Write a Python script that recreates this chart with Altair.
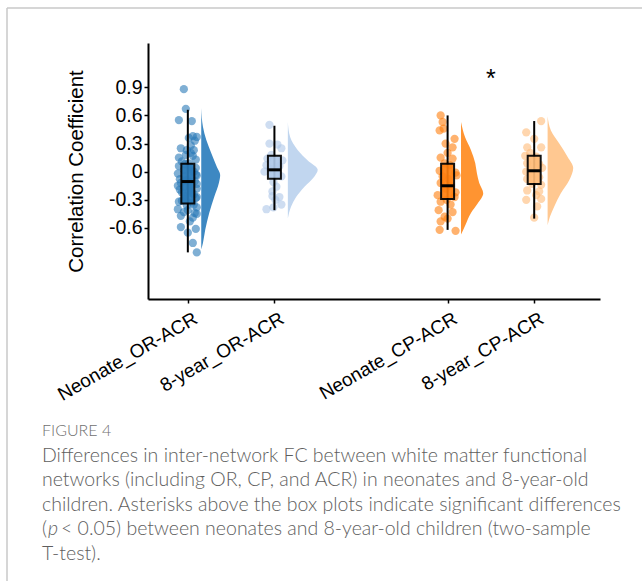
import altair as alt
import pandas as pd

# ---------------- data ----------------
groups = ["Neonate_OR-ACR", "8-year_OR-ACR", "Neonate_CP-ACR", "8-year_CP-ACR"]
positions = [1, 2, 4, 5]
box_colors = ["#2a7ab8", "#aec7e8", "#ff7f0e", "#ffbb78"]
violin_colors = ["#3d88c2", "#c1d6ef", "#ff9431", "#ffc891"]

# individual correlation coefficients and their horizontal jitter (in jitter steps)
g1_values = [0.88, 0.67, 0.55, 0.54, 0.38, 0.37, 0.36, 0.33, 0.25, 0.23, 0.23, 0.20,
             0.18, 0.17, 0.13, 0.11, 0.09, 0.06, 0.05, 0.04, 0.02, 0.00, -0.02, -0.03,
             -0.05, -0.07, -0.09, -0.10, -0.12, -0.14, -0.16, -0.18, -0.19, -0.21, -0.24, -0.26,
             -0.28, -0.31, -0.33, -0.36, -0.38, -0.40, -0.41, -0.44, -0.47, -0.49, -0.53, -0.59,
             -0.61, -0.65, -0.76, -0.86,
             0.08, 0.01, -0.04, -0.08, -0.11, -0.13, -0.15, -0.17, -0.22, -0.23, -0.27, -0.29,
             -0.32, -0.35, -0.43, 0.15, 0.28, -0.45]
g1_jitter = [-4, -2, -9, 4, 5, 9, 1, 7, -7, -1, 6, 3,
             -2, 5, 8, -6, 1, -9, 2, 8, -4, 6, -10, 8,
             -3, 4, -1, 7, -7, 3, -4, 9, -8, 1, 6, -3,
             8, -6, 4, -1, 9, -10, 0, 7, -7, 5, 2, -7,
             8, 0, 5, 9,
             -3, 3, 9, -8, 1, 9, -10, 2, -6, 4, 9, -2,
             -9, 6, -4, -9, 3, 9]

g2_values = [0.50, 0.30, 0.29, 0.25, 0.14, 0.12, 0.07, 0.06, 0.03, 0.00, -0.01, -0.05,
             -0.11, -0.16, -0.21, -0.26, -0.27, -0.30, -0.35, -0.40, -0.38, 0.18]
g2_jitter = [-5, -5, 3, 7, -7, 8, -8, 5, -4, -10, 3, 7,
             -1, 2, -2, -2, 5, 1, 7, -8, -1, -3]

g3_values = [0.60, 0.46, 0.44, 0.35, 0.30, 0.26, 0.15, 0.14, 0.09, 0.07, 0.01, -0.01,
             -0.05, -0.04, -0.12, -0.15, -0.18, -0.22, -0.25, -0.27, -0.32, -0.35, -0.41, -0.43,
             -0.48, -0.50, -0.53, -0.62, -0.63, 0.20, -0.08, -0.30, 0.53]
g3_jitter = [-7, -4, -8, 7, -2, 5, -7, 5, -3, 2, -8, 8,
             -5, 9, -7, 3, -2, 8, -10, 7, -7, 3, -9, 5,
             -3, 0, -7, -8, 8, 0, 1, -1, -5]

g4_values = [0.54, 0.42, 0.35, 0.26, 0.26, 0.17, 0.16, 0.09, 0.08, 0.00, -0.02, -0.06,
             -0.08, -0.13, -0.14, -0.20, -0.21, -0.25, -0.30, -0.29, -0.37, -0.49, 0.04, 0.20]
g4_jitter = [7, -8, 0, -7, 7, -9, 2, -7, 5, -8, -3, 5,
             -7, -2, 7, -7, 5, 2, -8, 7, 3, 0, 8, -4]

# box plot statistics
box_q1 = [-0.34, -0.075, -0.29, -0.13]
box_median = [-0.105, 0.02, -0.15, 0.01]
box_q3 = [0.085, 0.17, 0.085, 0.17]
box_low = [-0.86, -0.41, -0.62, -0.50]
box_high = [0.66, 0.49, 0.60, 0.54]

# half-violin profiles: value levels and relative density
v1_levels = [0.68, 0.48, 0.34, 0.20, 0.05, -0.035, -0.12, -0.27, -0.44, -0.62, -0.76, -0.83]
v1_dens = [0, 1.7, 5, 10, 15.7, 19, 17.7, 13, 8, 4, 1.7, 0]
v2_levels = [0.53, 0.37, 0.23, 0.12, 0.02, -0.05, -0.16, -0.27, -0.37, -0.50]
v2_dens = [0, 2.3, 10, 20, 30, 26.7, 16.7, 8.3, 3.3, 0]
v3_levels = [0.53, 0.37, 0.23, 0.09, -0.02, -0.12, -0.23, -0.34, -0.44, -0.57, -0.67]
v3_dens = [0, 4, 10, 14.3, 16, 18.3, 22.3, 16.7, 10, 4.3, 0]
v4_levels = [0.59, 0.44, 0.30, 0.16, 0.04, -0.09, -0.23, -0.37, -0.48, -0.57]
v4_dens = [0, 3.3, 11.7, 20, 25.7, 21.7, 13.3, 6.7, 2.3, 0]

sig_x = [4.5]
sig_y = [1.05]
sig_text = ["*"]

y_ticks = [0.9, 0.6, 0.3, 0, -0.3, -0.6]
y_title = "Correlation Coefficient"

caption_head = "FIGURE 4"
caption_lines = [
    "Differences in inter-network FC between white matter functional",
    "networks (including OR, CP, and ACR) in neonates and 8-year-old",
    "children. Asterisks above the box plots indicate significant differences",
]
caption_l4a = "("
caption_l4b = "p"
caption_l4c = "< 0.05) between neonates and 8-year-old children (two-sample"
caption_l5 = "T-test)."

# ---------------- build tables ----------------
JIT = 0.0115       # axis units per jitter step
VSCALE = 0.0115    # axis units per density unit
VOFF = 0.155       # gap between box centre and violin base
BOXW = 0.075

pts_rows = []
for gi, (vals, jits) in enumerate([(g1_values, g1_jitter), (g2_values, g2_jitter),
                                    (g3_values, g3_jitter), (g4_values, g4_jitter)]):
    for v, j in zip(vals, jits):
        pts_rows.append({"group": groups[gi], "xp": positions[gi] + j * JIT, "value": v})
pts = pd.DataFrame(pts_rows)

vio_rows = []
for gi, (lv, dn) in enumerate([(v1_levels, v1_dens), (v2_levels, v2_dens),
                                (v3_levels, v3_dens), (v4_levels, v4_dens)]):
    for l, d in zip(lv, dn):
        vio_rows.append({"group": groups[gi], "value": l,
                         "base": positions[gi] + VOFF,
                         "edge": positions[gi] + VOFF + d * VSCALE})
vio = pd.DataFrame(vio_rows).sort_values(["group", "value"]).reset_index(drop=True)

box = pd.DataFrame({
    "group": groups, "pos": positions,
    "left": [p - BOXW for p in positions], "right": [p + BOXW for p in positions],
    "q1": box_q1, "med": box_median, "q3": box_q3, "lo": box_low, "hi": box_high,
})
sig = pd.DataFrame({"x": sig_x, "y": sig_y, "t": sig_text})

color = alt.Color("group:N", scale=alt.Scale(domain=groups, range=box_colors), legend=None)

x_label_expr = " : ".join(
    f"datum.value == {p} ? '{g}'" for p, g in zip(positions, groups)) + " : ''"

xscale = alt.Scale(domain=[0.54, 5.76], nice=False, zero=False)
yscale = alt.Scale(domain=[-1.357, 1.372], nice=False, zero=False)

xaxis = alt.Axis(values=positions, labelExpr=x_label_expr, title=None, labelAngle=-30,
                 labelAlign="right", labelBaseline="top", labelPadding=6, labelOffset=3,
                 labelOverlap=False, labelBound=False, grid=False, labelFontSize=19)
yaxis = alt.Axis(values=y_ticks, title=y_title, grid=False,
                 labelExpr="datum.value == 0 ? '0' : (datum.value < 0 ? '-' + format(-datum.value, '.1f') : format(datum.value, '.1f'))",
                 titleX=-66, titleY=128, titleAlign="center", titleBaseline="alphabetic",
                 titleAngle=-90, labelFontSize=19.5)

# axes layer (invisible points carrying the axes)
axes = alt.Chart(box).mark_point(opacity=0).encode(
    x=alt.X("pos:Q", scale=xscale, axis=xaxis),
    y=alt.Y("med:Q", scale=yscale, axis=yaxis),
)

violins = []
for g, vc in zip(groups, violin_colors):
    violins.append(
        alt.Chart(vio[vio["group"] == g]).mark_area(
            orient="horizontal", interpolate="monotone", color=vc).encode(
            y=alt.Y("value:Q", scale=yscale),
            x=alt.X("edge:Q", scale=xscale, stack=None),
            x2="base:Q",
        )
    )

points = alt.Chart(pts).mark_circle(size=68, opacity=0.6).encode(
    x=alt.X("xp:Q", scale=xscale),
    y=alt.Y("value:Q", scale=yscale),
    color=color,
)

whisk = alt.Chart(box).mark_rule(color="black", strokeWidth=2).encode(
    x=alt.X("pos:Q", scale=xscale), y=alt.Y("lo:Q", scale=yscale), y2="hi:Q")

boxes = alt.Chart(box).mark_rect(stroke="black", strokeWidth=2, opacity=0.92).encode(
    x=alt.X("left:Q", scale=xscale), x2="right:Q",
    y=alt.Y("q1:Q", scale=yscale), y2="q3:Q", color=color)

med = alt.Chart(box).mark_rule(color="black", strokeWidth=3).encode(
    x=alt.X("left:Q", scale=xscale), x2="right:Q", y=alt.Y("med:Q", scale=yscale))

star = alt.Chart(sig).mark_text(fontSize=25, font="Liberation Sans", baseline="middle",
                                dy=6, color="black").encode(
    x=alt.X("x:Q", scale=xscale), y=alt.Y("y:Q", scale=yscale), text="t:N")

# caption and frame (decoration outside the plot area)
one = pd.DataFrame({"a": [0]})
cap_font = "Lato"
cap_color = "#5e5e5e"
cap_size = 19.5
cap_weight = 300
head = alt.Chart(pd.DataFrame({"t": [caption_head]})).mark_text(
    align="left", baseline="alphabetic", font=cap_font, fontSize=16, color="#707070",
    fontWeight=cap_weight).encode(
    x=alt.value(-106), y=alt.value(393), text="t:N")
body = alt.Chart(pd.DataFrame({"t": ["\n".join(caption_lines)]})).mark_text(
    align="left", baseline="alphabetic", font=cap_font, fontSize=cap_size, color=cap_color,
    fontWeight=cap_weight, lineBreak="\n", lineHeight=24.5).encode(
    x=alt.value(-106), y=alt.value(418.5), text="t:N")
l4a = alt.Chart(pd.DataFrame({"t": [caption_l4a]})).mark_text(
    align="left", baseline="alphabetic", font=cap_font, fontSize=cap_size, color=cap_color,
    fontWeight=cap_weight).encode(
    x=alt.value(-106), y=alt.value(492), text="t:N")
l4b = alt.Chart(pd.DataFrame({"t": [caption_l4b]})).mark_text(
    align="left", baseline="alphabetic", font=cap_font, fontSize=cap_size, color=cap_color,
    fontWeight=cap_weight, fontStyle="italic").encode(
    x=alt.value(-100), y=alt.value(492), text="t:N")
l4c = alt.Chart(pd.DataFrame({"t": [caption_l4c]})).mark_text(
    align="left", baseline="alphabetic", font=cap_font, fontSize=cap_size, color=cap_color,
    fontWeight=cap_weight).encode(
    x=alt.value(-87), y=alt.value(492), text="t:N")
l5 = alt.Chart(pd.DataFrame({"t": [caption_l5]})).mark_text(
    align="left", baseline="alphabetic", font=cap_font, fontSize=cap_size, color=cap_color,
    fontWeight=cap_weight).encode(
    x=alt.value(-106), y=alt.value(516.5), text="t:N")
frame_l = alt.Chart(one).mark_rule(color="#c8c8c8", strokeWidth=1.5).encode(
    x=alt.value(-141), y=alt.value(-35), y2=alt.value(540))
frame_t = alt.Chart(one).mark_rule(color="#c8c8c8", strokeWidth=1.5).encode(
    x=alt.value(-141), x2=alt.value(496), y=alt.value(-35))

chart = alt.layer(
    axes, *violins, points, whisk, boxes, med, star,
    head, body, l4a, l4b, l4c, l5, frame_l, frame_t,
).properties(
    width=452, height=256,
    autosize=alt.AutoSizeParams(type="none"),
    padding={"left": 148, "top": 43, "right": 42, "bottom": 282},
    background="white",
).configure_view(stroke=None).configure_axis(
    domainColor="black", domainWidth=2, tickColor="black", tickWidth=1.5, tickSize=4,
    labelFont="Liberation Sans", labelColor="black",
    titleFont="Liberation Sans", titleFontSize=20.5, titleFontWeight="normal",
    titleColor="black",
)

chart.save("out.html", embed_options={"renderer": "svg", "actions": False})
